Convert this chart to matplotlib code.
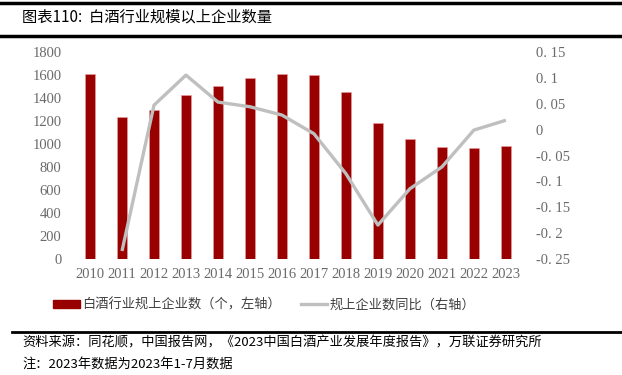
import matplotlib
matplotlib.use('Agg')
import matplotlib.pyplot as plt
from matplotlib.lines import Line2D
from matplotlib.patches import Patch
import numpy as np

plt.rcParams['font.family'] = ['Liberation Serif', 'Noto Sans CJK SC', 'DejaVu Sans']

years = ['2010', '2011', '2012', '2013', '2014', '2015', '2016',
         '2017', '2018', '2019', '2020', '2021', '2022', '2023']
firms = [1611, 1236, 1294, 1424, 1502, 1569, 1611,
         1598, 1448, 1179, 1043, 971, 968, 982]
yoy_years = years[1:]
yoy = [-0.234, 0.047, 0.105, 0.053, 0.044, 0.028,
       -0.008, -0.085, -0.184, -0.114, -0.072, -0.001, 0.018]

left_ticks = [0, 200, 400, 600, 800, 1000, 1200, 1400, 1600, 1800]
right_ticks = [-0.25, -0.2, -0.15, -0.1, -0.05, 0, 0.05, 0.1, 0.15]
right_labels = ['-0. 25', '-0. 2', '-0. 15', '-0. 1', '-0. 05', '0', '0. 05', '0. 1', '0. 15']

bar_color = '#990000'
line_color = '#BFBFBF'
tick_color = '#6a6a6a'

fig = plt.figure(figsize=(6.22, 3.75), dpi=100)
ax = fig.add_axes([0.119, 0.3085, 0.72, 0.5535])
ax2 = ax.twinx()

x = np.arange(len(years))
ax.bar(x, firms, width=0.32, color=bar_color, edgecolor='#e8a0a0', linewidth=0.4, zorder=2)
ax.set_ylim(0, 1800)
ax.set_xlim(-0.5, len(years) - 0.5)
ax.set_yticks(left_ticks)
ax.set_xticks(x)
ax.set_xticklabels(years)

ax2.plot(x[1:], yoy, color=line_color, linewidth=2.4, solid_capstyle='butt', zorder=3)
ax2.set_ylim(-0.25, 0.15)
ax2.set_yticks(right_ticks)
ax2.set_yticklabels(right_labels)

for a in (ax, ax2):
    for s in a.spines.values():
        s.set_visible(False)
    a.tick_params(length=0, colors=tick_color, labelsize=10.5)
ax.tick_params(axis='y', pad=9)
ax.tick_params(axis='x', pad=6)
ax2.tick_params(axis='y', pad=10)

# title and rules
fig.add_artist(Line2D([0.0, 1.0], [0.992, 0.992], color='black', linewidth=2.5))
fig.text(0.035, 0.955, '图表110:  白酒行业规模以上企业数量', fontsize=11,
         family=['Noto Sans CJK SC'], va='center', ha='left')
fig.add_artist(Line2D([0.0, 1.0], [0.905, 0.905], color='black', linewidth=2.5))

# legend
handles = [Patch(color=bar_color), Line2D([0], [0], color=line_color, linewidth=2.4)]
labels = ['白酒行业规上企业数（个，左轴）', '规上企业数同比（右轴）']
leg = fig.legend(handles, labels, loc='center', bbox_to_anchor=(0.425, 0.187), ncol=2,
                 frameon=False, handlelength=2.0, handleheight=0.6,
                 columnspacing=1.5, handletextpad=0.2,
                 prop={'family': ['Noto Sans CJK SC'], 'size': 9.5})
for t in leg.get_texts():
    t.set_color('#404040')

fig.add_artist(Line2D([0.02, 1.0], [0.115, 0.115], color='black', linewidth=2.0))
fig.text(0.036, 0.085, '资料来源：同花顺，中国报告网，《2023中国白酒产业发展年度报告》，万联证券研究所',
         fontsize=9.5, style='italic', family=['Noto Sans CJK SC'], va='center', ha='left')
fig.text(0.036, 0.028, '注：2023年数据为2023年1-7月数据',
         fontsize=9.5, style='italic', family=['Noto Sans CJK SC'], va='center', ha='left')

fig.savefig('out.png', dpi=100)
